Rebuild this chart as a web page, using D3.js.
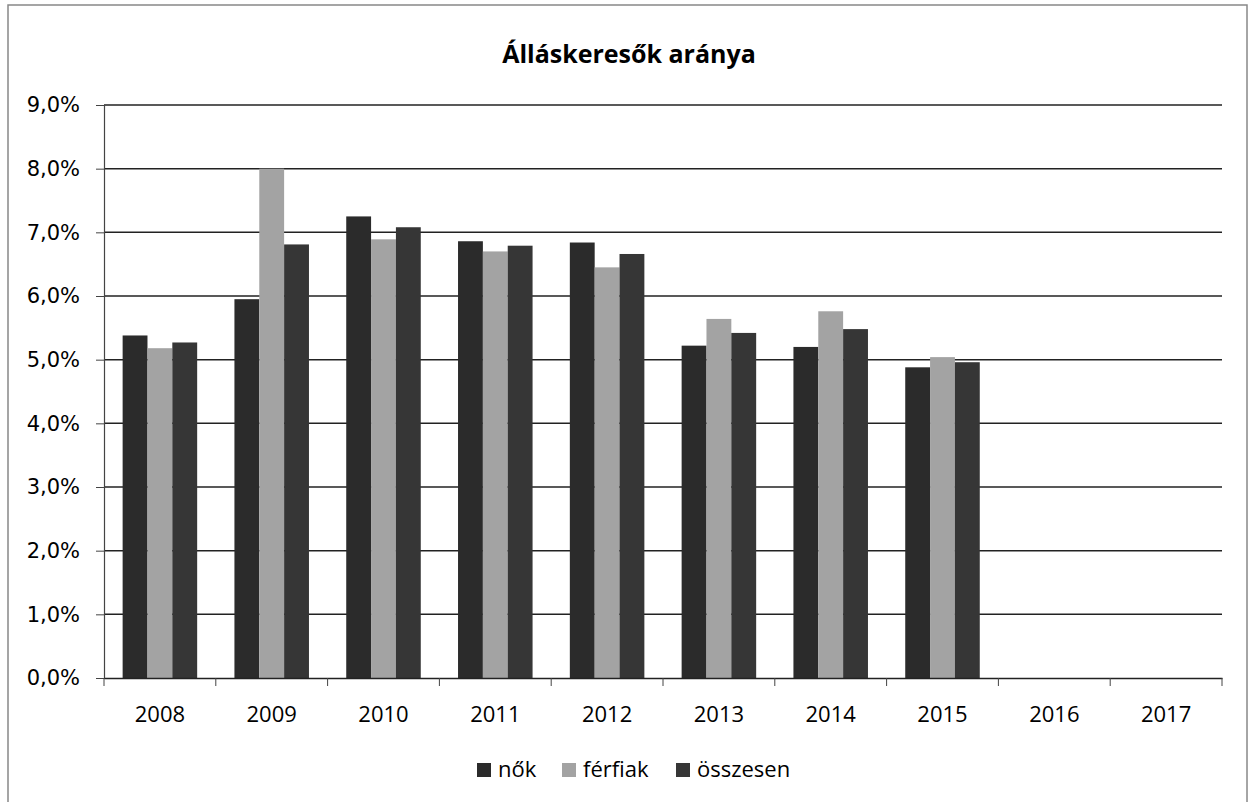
<!DOCTYPE html>
<html>
<head>
<meta charset="utf-8">
<script src="https://cdn.jsdelivr.net/npm/d3@7"></script>
<style>
  body { margin: 0; background: #fff; }
  text { font-family: "Open Sans", "DejaVu Sans", sans-serif; fill: #000; }
</style>
</head>
<body>
<svg id="chart" width="1249" height="802"></svg>
<script>
// Data
const years = ["2008", "2009", "2010", "2011", "2012", "2013", "2014", "2015", "2016", "2017"];
const seriesNames = ["nők", "férfiak", "összesen"];
const nok = [5.38, 5.95, 7.25, 6.86, 6.84, 5.22, 5.20, 4.88, null, null];
const ferfiak = [5.18, 8.00, 6.89, 6.70, 6.45, 5.64, 5.76, 5.04, null, null];
const osszesen = [5.27, 6.81, 7.08, 6.79, 6.66, 5.42, 5.48, 4.96, null, null];
const yTicks = [0, 1, 2, 3, 4, 5, 6, 7, 8, 9];
const colors = ["#2b2b2b", "#a3a3a3", "#363636"];

const values = [nok, ferfiak, osszesen];

const svg = d3.select("#chart");

// chart border
svg.append("rect")
    .attr("x", 8).attr("y", 5)
    .attr("width", 1239).attr("height", 800)
    .attr("fill", "none")
    .attr("stroke", "#888")
    .attr("stroke-width", 1.5);

const plot = { left: 104, right: 1222, top: 105, bottom: 678 };

const x = d3.scaleBand()
    .domain(years)
    .range([plot.left, plot.right]);

const y = d3.scaleLinear()
    .domain([0, 9])
    .range([plot.bottom, plot.top]);

// Excel style gap: 3 bars + 1.5 bar gap
const barW = x.bandwidth() / (3 + 1.5);
const groupOffset = (x.bandwidth() - 3 * barW) / 2;

// title
svg.append("text")
    .attr("x", 629).attr("y", 63)
    .attr("text-anchor", "middle")
    .style("font-size", "25px")
    .style("font-weight", "bold")
    .text("Álláskeresők aránya");

// gridlines
svg.append("g")
    .selectAll("line")
    .data(yTicks.filter(d => d > 0))
    .join("line")
    .attr("x1", plot.left).attr("x2", plot.right)
    .attr("y1", d => y(d)).attr("y2", d => y(d))
    .attr("stroke", "#222")
    .attr("stroke-width", 1.5);

// y axis
const yAxis = d3.axisLeft(y)
    .tickValues(yTicks)
    .tickSize(8)
    .tickPadding(16)
    .tickFormat(d => d3.format(".1f")(d).replace(".", ",") + "%");

const gy = svg.append("g")
    .attr("transform", `translate(${plot.left},0)`)
    .call(yAxis);
gy.select(".domain").attr("stroke", "#444").attr("stroke-width", 1.2);
gy.selectAll(".tick line").attr("stroke", "#444");
gy.selectAll("text").style("font-size", "21px").style("font-family", "DejaVu Sans, sans-serif");

// bars
years.forEach((yr, i) => {
    values.forEach((arr, s) => {
        const v = arr[i];
        if (v == null) return;
        svg.append("rect")
            .attr("x", x(yr) + groupOffset + s * barW)
            .attr("y", y(v))
            .attr("width", barW)
            .attr("height", y(0) - y(v))
            .attr("fill", colors[s]);
    });
});

// x axis
const gx = svg.append("g")
    .attr("transform", `translate(0,${plot.bottom})`)
    .call(d3.axisBottom(x).tickSize(0).tickPadding(28));
gx.select(".domain").attr("stroke", "#222").attr("stroke-width", 1.5);
gx.selectAll("text").style("font-size", "22px");

// x ticks at category boundaries
svg.append("g")
    .selectAll("line")
    .data(d3.range(years.length + 1))
    .join("line")
    .attr("x1", i => plot.left + i * x.step())
    .attr("x2", i => plot.left + i * x.step())
    .attr("y1", plot.bottom).attr("y2", plot.bottom + 8)
    .attr("stroke", "#444");

// legend
const legendItems = [
    { name: seriesNames[0], x: 477 },
    { name: seriesNames[1], x: 562 },
    { name: seriesNames[2], x: 676 }
];
const lg = svg.append("g");
legendItems.forEach((d, i) => {
    lg.append("rect")
        .attr("x", d.x).attr("y", 763)
        .attr("width", 14).attr("height", 14)
        .attr("fill", colors[i]);
    lg.append("text")
        .attr("x", d.x + 21).attr("y", 777)
        .style("font-size", "22px")
        .text(d.name);
});
</script>
</body>
</html>
